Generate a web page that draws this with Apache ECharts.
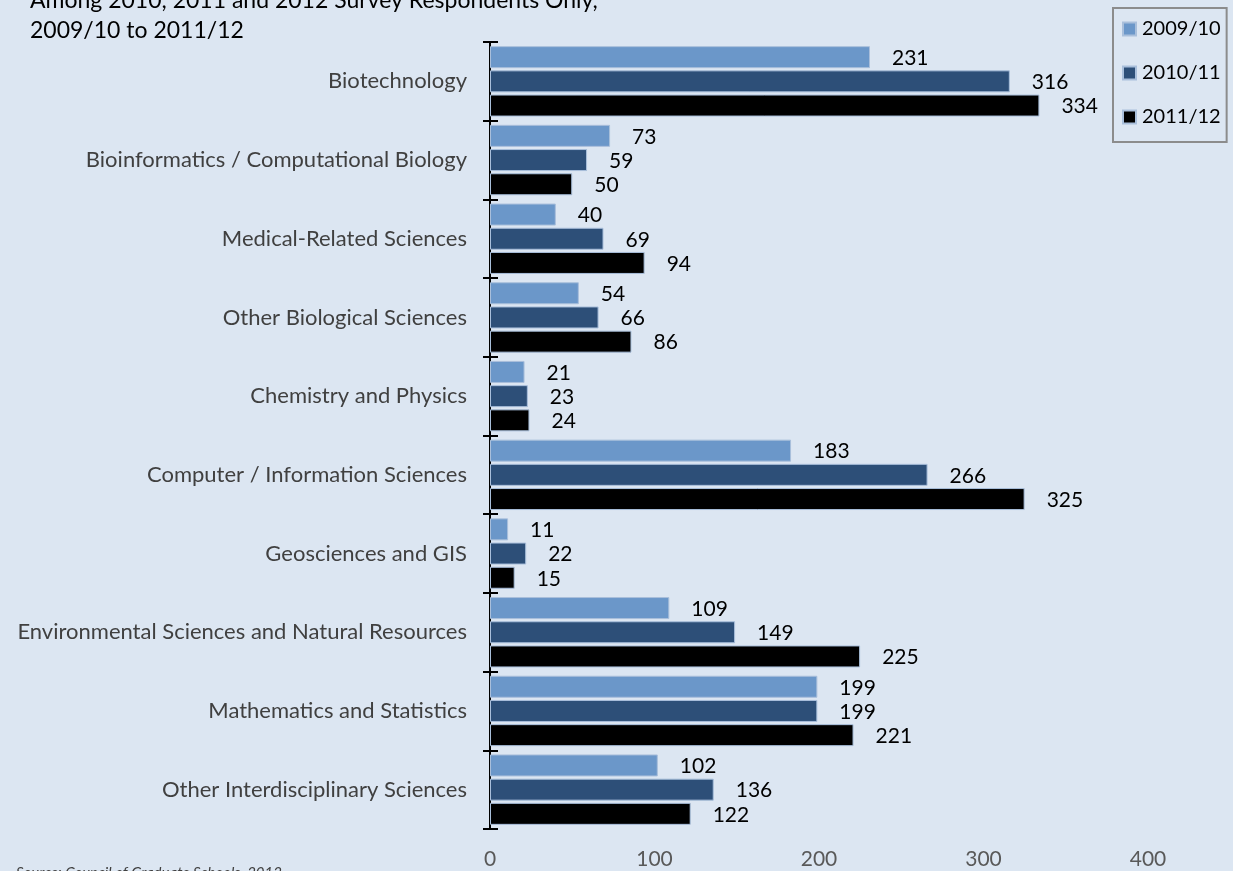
<!DOCTYPE html>
<html>
<head>
<meta charset="utf-8">
<script src="https://cdn.jsdelivr.net/npm/echarts@6/dist/echarts.min.js"></script>
<style>
html,body{margin:0;padding:0;background:#dce6f2;}
#chart{width:1233px;height:871px;}
</style>
</head>
<body>
<div id="chart"></div>
<script>
const categories = [
  "Biotechnology",
  "Bioinformatics / Computational Biology",
  "Medical-Related Sciences",
  "Other Biological Sciences",
  "Chemistry and Physics",
  "Computer / Information Sciences",
  "Geosciences and GIS",
  "Environmental Sciences and Natural Resources",
  "Mathematics and Statistics",
  "Other Interdisciplinary Sciences"
];
const seriesNames = ["2009/10", "2010/11", "2011/12"];
const values2009 = [231, 73, 40, 54, 21, 183, 11, 109, 199, 102];
const values2010 = [316, 59, 69, 66, 23, 266, 22, 149, 199, 136];
const values2011 = [334, 50, 94, 86, 24, 325, 15, 225, 221, 122];
const xTicks = [0, 100, 200, 300, 400];
const titleLines = ["Among 2010, 2011 and 2012 Survey Respondents Only,", "2009/10 to 2011/12"];
const sourceText = "Source: Council of Graduate Schools, 2012";

const FONT = "Lato, 'Open Sans', sans-serif";
const colors = ["#6b97c9", "#2d4f78", "#000000"];
const data = [values2009, values2010, values2011];

const chart = echarts.init(document.getElementById('chart'), null, {renderer: 'canvas'});
chart.setOption({
  backgroundColor: '#dce6f2',
  animation: false,
  textStyle: {fontFamily: FONT},
  graphic: [
    {type: 'text', left: 30, top: -14,
     style: {text: titleLines.join('\n'), font: "normal 23px " + FONT, fill: '#000', lineHeight: 30}},
    {type: 'text', left: 16, top: 866,
     style: {text: sourceText, font: "italic 15px " + FONT, fill: '#404040'}}
  ],
  legend: {
    data: seriesNames,
    orient: 'vertical',
    left: 1113, top: 8,
    padding: [11, 6, 15, 9],
    itemGap: 24,
    itemWidth: 13, itemHeight: 13,
    icon: 'rect',
    borderColor: '#8c8c8c', borderWidth: 2,
    textStyle: {fontFamily: FONT, fontSize: 20, color: '#000', padding: [0, 0, 0, 1]}
  },
  grid: {left: 490, right: 85, top: 42, bottom: 42, containLabel: false},
  xAxis: {
    type: 'value', min: 0, max: 400, interval: 100,
    axisLine: {show: false}, axisTick: {show: false}, splitLine: {show: false},
    axisLabel: {fontFamily: FONT, fontSize: 21, color: '#595959', margin: 20,
      formatter: v => xTicks.includes(v) ? String(v) : ''}
  },
  yAxis: [
    {
      type: 'category', data: categories, inverse: true,
      axisLine: {show: true, lineStyle: {color: '#000', width: 2}},
      axisTick: {show: true, length: 7, lineStyle: {color: '#000', width: 2}},
      axisLabel: {fontFamily: FONT, fontSize: 22, color: '#404040', margin: 23}
    },
    {
      type: 'category', data: categories, inverse: true, position: 'left', offset: 0,
      axisLine: {show: false},
      axisTick: {show: true, inside: true, length: 8, lineStyle: {color: '#000', width: 2}},
      axisLabel: {show: false}
    }
  ],
  series: seriesNames.map((name, i) => ({
    name, type: 'bar', data: data[i], yAxisIndex: 0,
    barWidth: 22, barGap: '10%',
    itemStyle: {color: colors[i], borderColor: '#a9bfdb', borderWidth: 1},
    label: {show: true, position: 'right', distance: 22, offset: [0, 1],
      fontFamily: FONT, fontSize: 21, color: '#000'}
  }))
});
</script>
</body>
</html>
